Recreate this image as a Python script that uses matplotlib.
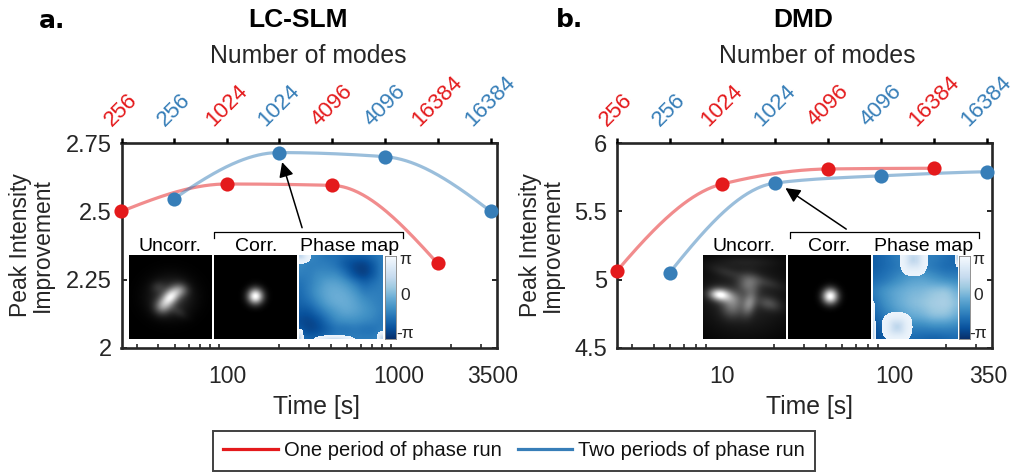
import numpy as np
import matplotlib
matplotlib.use('Agg')
import matplotlib.pyplot as plt
from matplotlib.lines import Line2D

plt.rcParams['font.family'] = ['Liberation Sans', 'DejaVu Sans']

W, H = 1017, 472
RED = '#e41a1c'
BLUE = '#377eb8'
DARK = '#262626'

# panel a (LC-SLM)
time_a = [24.4, 49, 100, 201, 407, 826, 1670, 3400]
red_a = [2.50, 2.60, 2.595, 2.31]
blue_a = [2.545, 2.715, 2.70, 2.50]
xticks_a = [100, 1000, 3500]
xticklabels_a = ['100', '1000', '3500']
minor_a = [30, 40, 50, 60, 70, 80, 90, 200, 300, 400, 500, 600, 700, 800, 900, 2000, 3000]
yticks_a = [2, 2.25, 2.5, 2.75]
yticklabels_a = ['2', '2.25', '2.5', '2.75']

# panel b (DMD)
time_b = [2.43, 4.94, 10, 20.3, 41.2, 83.5, 170, 345]
red_b = [5.06, 5.70, 5.81, 5.815]
blue_b = [5.05, 5.707, 5.76, 5.79]
xticks_b = [10, 100, 350]
xticklabels_b = ['10', '100', '350']
minor_b = [3, 4, 5, 6, 7, 8, 20, 30, 40, 50, 60, 70, 80, 200, 300]
yticks_b = [4.5, 5, 5.5, 6]
yticklabels_b = ['4.5', '5', '5.5', '6']

modes = ['256', '256', '1024', '1024', '4096', '4096', '16384', '16384']

# inset spots: cx, cy, sigma_major, sigma_minor, angle, amplitude (fractions of the image)
spots_uncorr_a = [(.50, .50, .18, .16, 0, .22), (.50, .50, .095, .06, 45, .72),
                  (.63, .42, .065, .055, 0, .24), (.40, .62, .07, .065, 0, .30),
                  (.35, .38, .06, .05, 0, .10), (.60, .68, .08, .04, -30, .08)]
spots_corr_a = [(.50, .49, .066, .066, 0, 1.0)]
spots_uncorr_b = [(.50, .50, .42, .35, 0, .15), (.19, .47, .085, .05, -5, .70),
                  (.30, .50, .12, .065, -10, .28), (.55, .34, .09, .08, 0, .30),
                  (.56, .58, .10, .055, 75, .36), (.35, .62, .09, .09, 0, .28),
                  (.80, .58, .10, .055, -15, .20), (.28, .20, .15, .045, -15, .09),
                  (.75, .32, .15, .045, -15, .10), (.50, .08, .30, .05, 0, .06)]
spots_corr_b = [(.51, .49, .066, .066, 0, 1.0)]

phase_a = [[-.30, -.30, -.40, -.50, -.50, -.60, -.60, -.60, -.50, -.40],
           [-.30, -.40, -.40, -.40, -.50, -.70, -.85, -.90, -.70, -.40],
           [-.40, -.40, -.30, -.30, -.30, -.50, -.80, -.90, -.70, -.40],
           [-.50, -.40, -.25, -.10, -.10, -.20, -.40, -.60, -.50, -.40],
           [-.55, -.40, -.20, -.05, .00, -.05, -.20, -.40, -.40, -.40],
           [-.60, -.50, -.30, -.10, .00, .00, -.10, -.25, -.35, -.40],
           [-.70, -.70, -.50, -.30, -.15, -.05, -.10, -.20, -.30, -.40],
           [-.80, -.85, -.75, -.50, -.30, -.25, -.25, -.30, -.35, -.45],
           [-.70, -.85, -.80, -.65, -.50, -.50, -.45, -.50, -.50, -.40],
           [-.50, -.60, -.60, -.50, -.40, -.40, -.40, -.40, -.40, -.30]]
phase_b = [[-.65, -.55, -.40, -.40, -.40, -.40, -.50, -.60],
           [-.65, -.55, -.45, -.35, -.35, -.45, -.55, -.55],
           [-.55, -.45, -.30, -.15, -.10, -.20, -.30, -.35],
           [-.40, -.20, -.05, .05, .10, .20, .25, .00],
           [-.50, -.25, -.05, .10, .20, .30, .35, .15],
           [-.60, -.40, -.20, -.05, .05, .20, .20, .00],
           [-.75, -.55, -.40, -.35, -.35, -.30, -.30, -.35],
           [-.85, -.65, -.55, -.55, -.60, -.65, -.60, -.55]]
# wrapped islands: cx, cy, rx, ry
islands_a = [(.42, 1.02, .25, .06), (.00, .00, .14, .10), (.00, 1.00, .05, .12), (1.00, 1.00, .07, .09)]
islands_b = [(.48, .04, .165, .21), (.285, .86, .185, .18), (.00, .95, .025, .40), (1.00, .02, .03, .12)]


def px_axes(fig, left, top, right, bottom):
    return fig.add_axes([left / W, 1 - bottom / H, (right - left) / W, (bottom - top) / H])


def pchip(x, y, xnew):
    # monotone cubic, same idea as MATLAB's pchip
    x, y = np.asarray(x), np.asarray(y)
    h = np.diff(x)
    s = np.diff(y) / h
    d = np.zeros_like(y)
    for i in range(1, len(x) - 1):
        if s[i - 1] * s[i] > 0:
            w1 = 2 * h[i] + h[i - 1]
            w2 = h[i] + 2 * h[i - 1]
            d[i] = (w1 + w2) / (w1 / s[i - 1] + w2 / s[i])
    d[0] = ((2 * h[0] + h[1]) * s[0] - h[0] * s[1]) / (h[0] + h[1])
    d[-1] = ((2 * h[-1] + h[-2]) * s[-1] - h[-1] * s[-2]) / (h[-1] + h[-2])
    if d[0] * s[0] < 0:
        d[0] = 0
    if d[-1] * s[-1] < 0:
        d[-1] = 0
    idx = np.clip(np.searchsorted(x, xnew) - 1, 0, len(h) - 1)
    t = (xnew - x[idx]) / h[idx]
    return ((2 * t**3 - 3 * t**2 + 1) * y[idx] + (t**3 - 2 * t**2 + t) * h[idx] * d[idx]
            + (-2 * t**3 + 3 * t**2) * y[idx + 1] + (t**3 - t**2) * h[idx] * d[idx + 1])


def spot_image(spots, n=84):
    yy, xx = np.mgrid[0:1:n * 1j, 0:1:n * 1j]
    img = np.zeros((n, n))
    for cx, cy, sa, sb, ang, amp in spots:
        th = np.deg2rad(ang)
        u = (xx - cx) * np.cos(th) - (yy - cy) * np.sin(th)
        v = (xx - cx) * np.sin(th) + (yy - cy) * np.cos(th)
        img += amp * np.exp(-u**2 / (2 * sa**2) - v**2 / (2 * sb**2))
    return np.clip(img, 0, 1)


def phase_image(grid, islands, n=84):
    grid = np.asarray(grid, dtype=float)
    rows = np.linspace(0, grid.shape[0] - 1, n)
    cols = np.linspace(0, grid.shape[1] - 1, n)
    tmp = np.array([np.interp(cols, np.arange(grid.shape[1]), r) for r in grid])
    img = np.array([np.interp(rows, np.arange(grid.shape[0]), c) for c in tmp.T]).T
    # soften the coarse grid
    kernel = np.ones(9) / 9
    img = np.pad(img, 4, mode='edge')
    img = np.apply_along_axis(lambda v: np.convolve(v, kernel, mode='same'), 0, img)
    img = np.apply_along_axis(lambda v: np.convolve(v, kernel, mode='same'), 1, img)
    img = img[4:-4, 4:-4]
    yy, xx = np.mgrid[0:1:n * 1j, 0:1:n * 1j]
    for cx, cy, rx, ry in islands:
        r = (np.abs((xx - cx) / rx)**2.6 + np.abs((yy - cy) / ry)**2.6)**(1 / 2.6)
        img[r < 1] = 0.9 - 0.45 * np.exp(-r[r < 1]**2 / 0.25)
    return img


def draw_panel(ax, times, red, blue, xlim, ylim, xticks, xlabels, minor, yticks, ylabels,
               label_x, time_x, modes_x):
    t_red, t_blue = times[0::2], times[1::2]
    for t, v, color in [(t_red, red, RED), (t_blue, blue, BLUE)]:
        logt = np.log10(t)
        dense = np.linspace(logt[0], logt[-1], 200)
        ax.plot(10**dense, pchip(logt, v, dense), color=color, lw=2.3, alpha=0.5, zorder=3)
    for t, v, color in [(t_red, red, RED), (t_blue, blue, BLUE)]:
        ax.plot(t, v, 'o', color=color, ms=10.2, mew=0, clip_on=False, zorder=5)

    ax.set_xscale('log')
    ax.set_xlim(xlim)
    ax.set_ylim(ylim)
    ax.set_xticks(xticks)
    ax.set_xticklabels(xlabels)
    ax.set_xticks(minor, minor=True)
    ax.set_xticklabels([], minor=True)
    ax.set_yticks(yticks)
    ax.set_yticklabels(ylabels)
    ax.tick_params(axis='x', which='major', length=0, labelsize=16.5, pad=12, colors=DARK)
    ax.tick_params(axis='x', which='minor', direction='in', length=3, width=1.2, color=DARK)
    ax.tick_params(axis='y', direction='in', length=3.5, width=1.4, right=True, labelsize=17,
                   pad=7, colors=DARK)
    ax.set_xlabel('Time [s]', fontsize=17.8, color=DARK, labelpad=5, x=time_x)
    ax.set_ylabel('Peak Intensity\nImprovement', fontsize=16.5, color=DARK, linespacing=0.95)
    ax.yaxis.set_label_coords(label_x, 0.5)
    for side in ax.spines.values():
        side.set_linewidth(1.9)
        side.set_color(DARK)

    top = ax.twiny()
    top.set_xscale('log')
    top.set_xlim(xlim)
    top.set_xticks(times)
    top.set_xticklabels(modes, rotation=45)
    top.minorticks_off()
    top.tick_params(axis='x', direction='out', length=3.5, width=1.8, labelsize=16, pad=5.5)
    for i, (tick, lab) in enumerate(zip(top.xaxis.get_major_ticks(), top.get_xticklabels())):
        color = RED if i % 2 == 0 else BLUE
        tick.tick2line.set_color(color)
        lab.set_color(color)
    top.set_xlabel('Number of modes', fontsize=17.8, color=DARK, labelpad=6, x=modes_x)
    for side in top.spines.values():
        side.set_visible(False)
    return top


def draw_insets(fig, x0, uncorr, corr, phase, bracket):
    top, bottom = 255, 339
    cmap = 'Blues_r'
    boxes = [(x0, x0 + 83), (x0 + 85, x0 + 168), (x0 + 170, x0 + 254)]
    names = ['Uncorr.', 'Corr.', 'Phase map']
    centers = [x0 + 41, x0 + 127, x0 + 221]
    for (l, r), img, c, name in zip(boxes, [uncorr, corr, phase], centers, names):
        iax = px_axes(fig, l, top, r, bottom)
        if img is phase:
            iax.imshow(img, cmap=cmap, vmin=-1, vmax=1, aspect='auto', interpolation='nearest')
        else:
            iax.imshow(img, cmap='gray', vmin=0, vmax=1, aspect='auto', interpolation='bilinear')
        iax.axis('off')
        fig.text(c / W, 1 - 246 / H, name, fontsize=14, color='black', ha='center', va='center')

    cax = px_axes(fig, x0 + 256, top + 1, x0 + 267, bottom)
    cax.imshow(np.linspace(1, 0, 128)[:, None], cmap=cmap, aspect='auto')
    cax.set_xticks([])
    cax.set_yticks([])
    for side in cax.spines.values():
        side.set_linewidth(0.6)
        side.set_color('#808080')
    for y, s in [(260, '\u03c0'), (295, '0'), (333, '-\u03c0')]:
        fig.text((x0 + 276) / W, 1 - y / H, s, fontsize=12.5, color=DARK,
                 ha='center', va='center')

    # bracket over Corr. and Phase map
    bx0, bx1 = bracket
    fig.add_artist(Line2D([bx0 / W, bx0 / W, bx1 / W, bx1 / W],
                          [1 - 238 / H, 1 - 231.5 / H, 1 - 231.5 / H, 1 - 238 / H],
                          color='black', lw=0.9))


fig = plt.figure(figsize=(W / 100, H / 100), dpi=100)

ax_a = px_axes(fig, 121.5, 143, 497, 348)
draw_panel(ax_a, time_a, red_a, blue_a, (24.4, 3700), (2, 2.75), xticks_a, xticklabels_a,
           minor_a, yticks_a, yticklabels_a, -0.18, 0.518, 0.497)
ax_a.annotate('', xy=(209, 2.68), xytext=(273, 2.44),
              arrowprops=dict(arrowstyle='-|>', color='black', lw=1.1, mutation_scale=22,
                              shrinkA=0, shrinkB=0), zorder=4)

ax_b = px_axes(fig, 616.5, 143, 992, 348)
draw_panel(ax_b, time_b, red_b, blue_b, (2.43, 370), (4.5, 6), xticks_b, xticklabels_b,
           minor_b, yticks_b, yticklabels_b, -0.14, 0.513, 0.534)
ax_b.annotate('', xy=(23.3, 5.67), xytext=(52.6, 5.37),
              arrowprops=dict(arrowstyle='-|>', color='black', lw=1.1, mutation_scale=22,
                              shrinkA=0, shrinkB=0), zorder=4)

draw_insets(fig, 129, spot_image(spots_uncorr_a), spot_image(spots_corr_a),
            phase_image(phase_a, islands_a), (214, 403))
draw_insets(fig, 702.5, spot_image(spots_uncorr_b), spot_image(spots_corr_b),
            phase_image(phase_b, islands_b), (790, 979))

# panel letters and titles
fig.text(52 / W, 1 - 21 / H, 'a.', fontsize=18, fontweight='bold', family='DejaVu Sans',
         ha='center', va='center', color='black')
fig.text(569 / W, 1 - 20 / H, 'b.', fontsize=18, fontweight='bold', family='DejaVu Sans',
         ha='center', va='center', color='black')
fig.text(298 / W, 1 - 20 / H, 'LC-SLM', fontsize=19, fontweight='bold', ha='center',
         va='center', color='black')
fig.text(803 / W, 1 - 20 / H, 'DMD', fontsize=19, fontweight='bold', ha='center',
         va='center', color='black')

handles = [Line2D([], [], color=RED, lw=2.3), Line2D([], [], color=BLUE, lw=2.3)]
leg = fig.legend(handles, ['One period of phase run', 'Two periods of phase run'], ncol=2,
                 loc='center', bbox_to_anchor=(514 / W, 1 - 451 / H), fontsize=14.5,
                 handlelength=2.7, handletextpad=0.3, columnspacing=0.8, borderpad=0.5,
                 fancybox=False, framealpha=1, edgecolor='#404040')
leg.get_frame().set_linewidth(1.4)
for text in leg.get_texts():
    text.set_color('#111111')

fig.savefig('out.png', dpi=100)
